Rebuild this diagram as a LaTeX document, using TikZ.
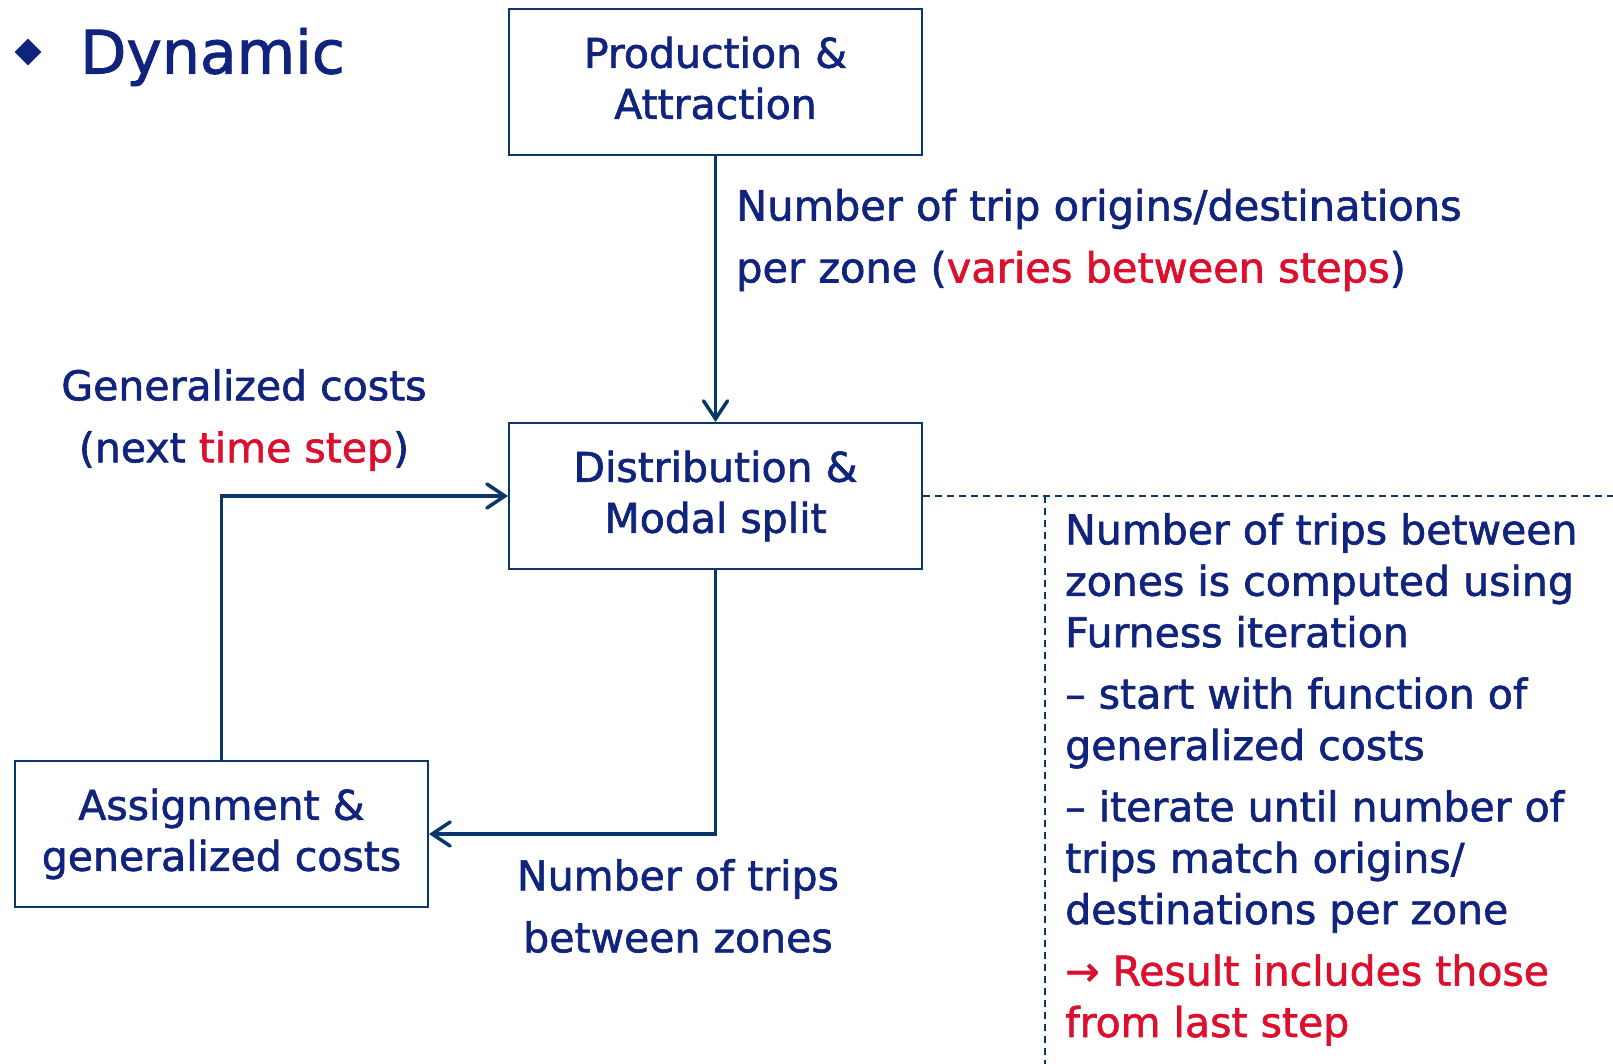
\documentclass[tikz,border=0pt]{standalone}
\usepackage{fontspec}
\setmainfont{DejaVu Sans}[UprightFeatures={FakeBold=1.5}]
\usetikzlibrary{positioning, arrows.meta, shapes.geometric}
\definecolor{navytext}{RGB}{16,35,125}
\definecolor{navyline}{RGB}{10,55,105}
\definecolor{hired}{RGB}{220,15,45}
\tikzset{
  stagebox/.style={draw=navyline, line width=2pt, minimum width=413pt, minimum height=146pt,
    align=center, text=navytext, font=\fontsize{41}{51}\selectfont},
  flow/.style={draw=navyline, line width=3.5pt, -{Straight Barb[length=18pt, width=24pt, line cap=round]}},
  note/.style={text=navytext, inner sep=0pt, font=\fontsize{41}{62}\selectfont},
  split/.style={draw=navyline, line width=1.5pt, dash pattern=on 7pt off 5pt},
}

\begin{document}
\begin{tikzpicture}[x=1pt, y=-1pt]
\useasboundingbox (0,0) rectangle (1613,1064);
\node[diamond, fill=navytext, minimum size=27pt, inner sep=0pt] (bullet) at (28,52) {};
\node[anchor=west, text=navytext, inner sep=0pt, font=\fontsize{60}{70}\selectfont] (title) at (80,57) {Dynamic};
\node[stagebox] (prod) at (715.5,82) {Production \&\\Attraction\vphantom{p}};
\node[stagebox] (dist) at (715.5,496) {Distribution \&\\Modal split};
\node[stagebox] (assign) at (221.5,834) {Assignment \&\\generalized costs};
\node[note, anchor=west, align=left, font=\fontsize{41.5}{62}\selectfont] (perzone) at (736,240) {Number of trip origins/destinations\\per zone (\textcolor{hired}{varies between steps})};
\node[note, align=center] (gencost) at (244,420) {Generalized costs\\(next \textcolor{hired}{time step})};
\node[note, align=center] (tripsbetween) at (678,906) {Number of trips\\between zones};
\node[note, anchor=north west, align=left, font=\fontsize{41}{51.4}\selectfont] (furness) at (1065,513) {Number of trips between\\zones is computed using\\Furness iteration\\[10pt]
– start with function of\\generalized costs\\[10pt]
– iterate until number of\\trips match origins/\\destinations per zone\\[10pt]
\textcolor{hired}{→ Result includes those}\\\textcolor{hired}{from last step}};
\coordinate (dashend) at (1613,496);
\coordinate (split) at (1045,496);
\coordinate (splitend) at (1045,1064);
\draw[split] (dist.east) -- (dashend);
\draw[split] (split) -- (splitend);
\draw[flow] (prod) -- (dist);
\draw[flow] (assign.north) |- (dist.west);
\draw[flow] (dist.south) |- (assign.east);
\end{tikzpicture}
\end{document}
